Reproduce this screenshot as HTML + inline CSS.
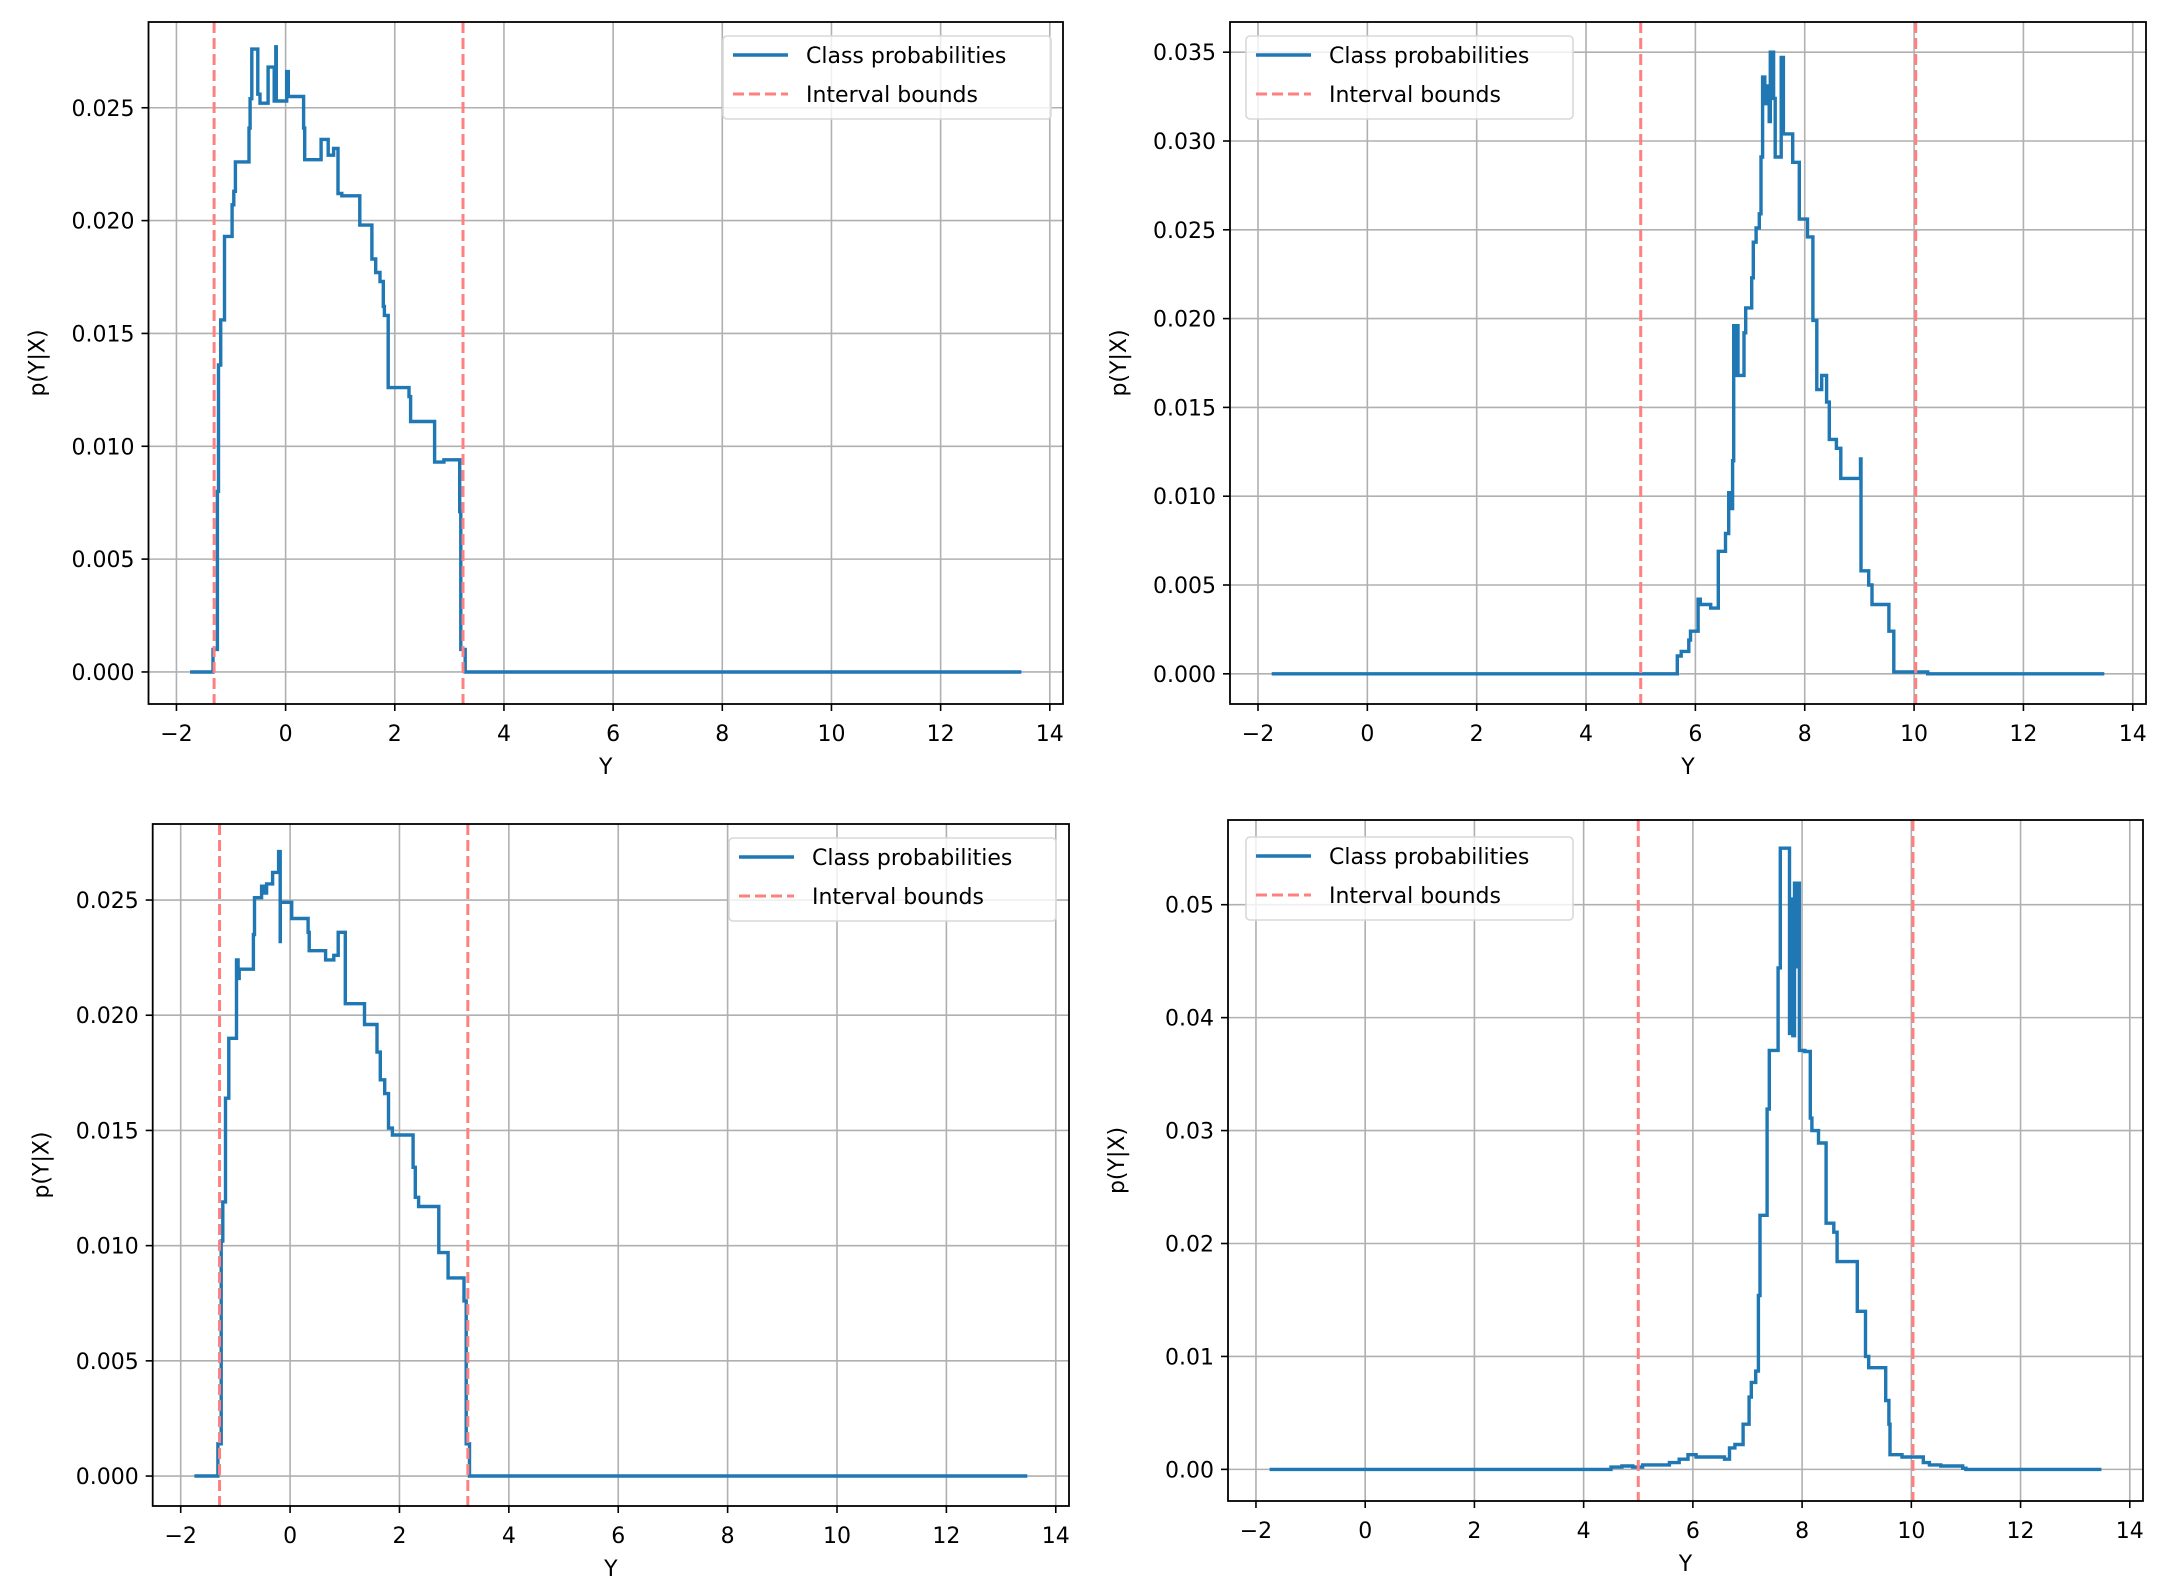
<!DOCTYPE html>
<html><head><meta charset="utf-8">
<style>
html,body{margin:0;padding:0;background:#fff;}
svg{display:block;font-family:"DejaVu Sans","Liberation Sans",sans-serif;}
</style></head>
<body>
<svg id="fig" width="2166" height="1582" viewBox="0 0 2166 1582" xmlns="http://www.w3.org/2000/svg"></svg>
<script>
// ---- data (step 'post': left edges + values; last edge is end) ----
const tlX = [-1.75,-1.33,-1.25,-1.23,-1.19,-1.12,-0.98,-0.95,-0.92,-0.67,-0.65,-0.62,-0.51,-0.47,-0.32,-0.21,-0.18,-0.17,0.02,0.05,0.33,0.35,0.65,0.78,0.88,0.96,1.03,1.36,1.58,1.65,1.73,1.79,1.81,1.88,2.26,2.29,2.73,2.90,3.19,3.21,3.29,13.48];
const tlP = [0,0.001,0.008,0.0136,0.0156,0.0193,0.0207,0.0213,0.0226,0.0241,0.0254,0.0276,0.0256,0.0252,0.0268,0.0253,0.0277,0.0253,0.0266,0.0255,0.0241,0.0227,0.0236,0.0229,0.0232,0.0212,0.0211,0.0198,0.0183,0.0177,0.0173,0.0162,0.0158,0.0126,0.0122,0.0111,0.0093,0.0094,0.0071,0.001,0];
const tlBounds = [-1.31,3.25];

const trX = [-1.75,5.67,5.74,5.88,5.91,6.05,6.09,6.28,6.42,6.55,6.61,6.64,6.68,6.70,6.73,6.76,6.78,6.89,6.92,7.03,7.06,7.11,7.17,7.20,7.23,7.27,7.31,7.35,7.37,7.43,7.46,7.57,7.61,7.78,7.90,8.05,8.15,8.22,8.31,8.40,8.45,8.58,8.66,9.02,9.03,9.17,9.23,9.54,9.63,10.25,13.48];
const trP = [0,0.001,0.00126,0.0019,0.0024,0.0042,0.0039,0.0037,0.0069,0.0079,0.0102,0.0093,0.012,0.0196,0.0168,0.0196,0.0168,0.0192,0.0206,0.0223,0.0243,0.0251,0.0259,0.0291,0.0336,0.0321,0.0331,0.0311,0.035,0.0324,0.0291,0.0347,0.0304,0.0288,0.0256,0.0246,0.0199,0.016,0.0168,0.0153,0.0132,0.0127,0.011,0.0121,0.0058,0.005,0.0039,0.0024,0.0001,0];
const trBounds = [5.0,10.03];

const blX = [-1.75,-1.32,-1.26,-1.23,-1.18,-1.12,-0.98,-0.95,-0.93,-0.67,-0.65,-0.52,-0.47,-0.43,-0.32,-0.21,-0.18,-0.179,0.03,0.33,0.35,0.65,0.80,0.88,1.01,1.36,1.59,1.65,1.73,1.80,1.87,2.25,2.29,2.35,2.72,2.89,3.18,3.22,3.28,13.48];
const blP = [0,0.0014,0.0102,0.0119,0.0164,0.019,0.0224,0.0216,0.022,0.0235,0.0251,0.0256,0.0253,0.0257,0.0262,0.0271,0.0232,0.0249,0.0242,0.0236,0.0228,0.0224,0.0226,0.0236,0.0205,0.0196,0.0184,0.0172,0.0166,0.0151,0.0148,0.0134,0.0121,0.0117,0.0097,0.0086,0.0076,0.0014,0];
const blBounds = [-1.29,3.25];

const brX = [-1.75,4.5,4.7,4.9,5.08,5.57,5.75,5.91,6.06,6.58,6.67,6.77,6.92,7.03,7.07,7.15,7.20,7.23,7.36,7.40,7.56,7.60,7.77,7.80,7.83,7.86,7.89,7.92,7.95,8.05,8.15,8.18,8.30,8.44,8.58,8.64,9.01,9.16,9.22,9.53,9.59,9.61,9.83,10.22,10.33,10.54,10.94,11.0,13.48];
const brP = [0,0.0002,0.0003,0.0002,0.0004,0.0006,0.0009,0.0013,0.0011,0.0009,0.0019,0.0022,0.004,0.0064,0.0077,0.0087,0.0154,0.0225,0.0319,0.0371,0.0444,0.055,0.0386,0.0505,0.0384,0.0519,0.0445,0.0519,0.0371,0.037,0.0311,0.03,0.0289,0.0218,0.021,0.0184,0.014,0.01,0.009,0.0061,0.004,0.0013,0.0011,0.0006,0.0004,0.0003,0.0001,0];
const brBounds = [5.0,10.03];

const xTickVals = [-2,0,2,4,6,8,10,12,14];
const yTicksA = [0,0.005,0.010,0.015,0.020,0.025];
const yLabA = ["0.000","0.005","0.010","0.015","0.020","0.025"];
const yTicksB = [0,0.005,0.010,0.015,0.020,0.025,0.030,0.035];
const yLabB = ["0.000","0.005","0.010","0.015","0.020","0.025","0.030","0.035"];
const yTicksC = [0,0.01,0.02,0.03,0.04,0.05];
const yLabC = ["0.00","0.01","0.02","0.03","0.04","0.05"];

const NS="http://www.w3.org/2000/svg";
const svg=document.getElementById('fig');
function mk(tag,attrs,parent){const e=document.createElementNS(NS,tag);for(const k in attrs)e.setAttribute(k,attrs[k]);(parent||svg).appendChild(e);return e;}

function panel(id,box,ylim,xs,ps,bounds,yt,yl,legend){
  const g=mk('g',{});
  
  
  const [L,T,R,B]=box;
  const X=v=>L+(v-(-2.512))/(14.242-(-2.512))*(R-L);
  const Y=v=>B-(v-ylim[0])/(ylim[1]-ylim[0])*(B-T);
  xTickVals.forEach(v=>{const l=mk('line',{x1:X(v),x2:X(v),y1:T,y2:B,stroke:'#b0b0b0','stroke-width':1.6},g);
    });
  yt.forEach(v=>{const l=mk('line',{x1:L,x2:R,y1:Y(v),y2:Y(v),stroke:'#b0b0b0','stroke-width':1.6},g);
    });
  let d='';
  for(let i=0;i<ps.length;i++){
    d+=(i===0?'M':'L')+X(xs[i]).toFixed(1)+' '+Y(ps[i]).toFixed(1)+' L'+X(xs[i+1]).toFixed(1)+' '+Y(ps[i]).toFixed(1)+' ';
  }
  const p=mk('path',{d:d,fill:'none',stroke:'#1f77b4','stroke-width':3.4,'stroke-linejoin':'miter'},g);
  
  
  bounds.forEach(b=>{const l=mk('line',{x1:X(b),x2:X(b),y1:T,y2:B,stroke:'#ff8080','stroke-width':3,'stroke-dasharray':'11 5'},g);
    });
  const f=mk('rect',{x:L,y:T,width:R-L,height:B-T,fill:'none',stroke:'#000','stroke-width':1.8},g);
  
  xTickVals.forEach(v=>{
    mk('line',{x1:X(v),x2:X(v),y1:B,y2:B+7,stroke:'#000','stroke-width':1.6},g);
    const t=mk('text',{x:X(v),y:B+37,'font-size':22,'text-anchor':'middle',fill:'#000'},g);
    t.textContent=(v<0?'\u2212'+(-v):String(v));
    
  });
  yt.forEach((v,i)=>{
    mk('line',{x1:L-7,x2:L,y1:Y(v),y2:Y(v),stroke:'#000','stroke-width':1.6},g);
    const t=mk('text',{x:L-14,y:Y(v)+8,'font-size':22,'text-anchor':'end',fill:'#000'},g);
    t.textContent=yl[i];
    
  });
  const xt=mk('text',{x:(L+R)/2,y:B+70,'font-size':22,'text-anchor':'middle'},g);
  xt.textContent='Y';
  
  const yx=L-104, yy=(T+B)/2;
  const ytt=mk('text',{x:yx,y:yy,'font-size':22,'text-anchor':'middle',transform:'rotate(-90 '+yx+' '+yy+')'},g);
  ytt.textContent='p(Y|X)';
  
  const [lx,ly,lw,lh]=legend;
  const lg=mk('g',{},g);
  
  mk('rect',{x:lx,y:ly,width:lw,height:lh,rx:4,fill:'#fff','fill-opacity':0.8,stroke:'#d8d8d8','stroke-width':1.6},lg);
  mk('line',{x1:lx+10,x2:lx+65,y1:ly+19,y2:ly+19,stroke:'#1f77b4','stroke-width':3.4},lg);
  const t1=mk('text',{x:lx+83,y:ly+27,'font-size':22},lg);t1.textContent='Class probabilities';
  
  mk('line',{x1:lx+10,x2:lx+65,y1:ly+58,y2:ly+58,stroke:'#ff8080','stroke-width':3,'stroke-dasharray':'11 5'},lg);
  const t2=mk('text',{x:lx+83,y:ly+66,'font-size':22},lg);t2.textContent='Interval bounds';
  
}

panel('top-left',[148.5,22,1063,704],[-0.00142,0.0288],tlX,tlP,tlBounds,yTicksA,yLabA,[723,36,328,83]);
panel('top-right',[1230,22,2146,704],[-0.0017,0.0367],trX,trP,trBounds,yTicksB,yLabB,[1246,36,327,83]);
panel('bottom-left',[152.7,824,1069,1506],[-0.0013,0.0283],blX,blP,blBounds,yTicksA,yLabA,[729,838,327,83]);
panel('bottom-right',[1228,820,2143,1501],[-0.0028,0.0575],brX,brP,brBounds,yTicksC,yLabC,[1246,837,327,83]);
</script>
</body></html>
